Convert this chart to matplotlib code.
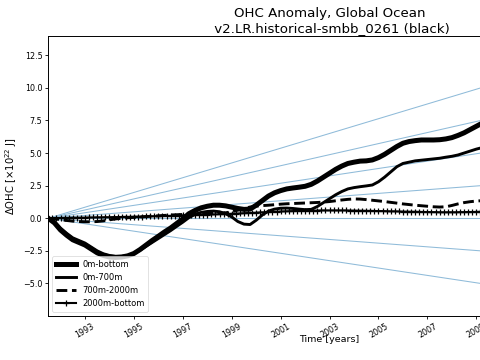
import numpy as np
import matplotlib
matplotlib.use("Agg")
import matplotlib.pyplot as plt

# ---------------- data ----------------
start_year = 1991.5
end_year = 2014.5

# quarterly series (step 0.25 yr from 1991.5)
ohc_0m_bottom = [
    0.00, -0.35, -0.90, -1.30, -1.65, -1.85, -2.05, -2.35, -2.65, -2.85,
    -2.97, -3.00, -2.97, -2.88, -2.70, -2.40, -2.05, -1.70, -1.38, -1.05,
    -0.75, -0.40, -0.05, 0.35, 0.60, 0.80, 0.92, 1.00, 1.00, 0.95,
    0.85, 0.75, 0.68, 0.70, 1.00, 1.35, 1.70, 1.95, 2.12, 2.25,
    2.32, 2.38, 2.45, 2.60, 2.85, 3.15, 3.45, 3.75, 4.00, 4.20,
    4.30, 4.38, 4.40, 4.47, 4.65, 4.90, 5.20, 5.50, 5.75, 5.88,
    5.95, 6.00, 6.00, 6.00, 6.02, 6.08, 6.18, 6.35, 6.55, 6.80,
    7.05, 7.30, 7.50]

ohc_0m_700m = [
    0.00, -0.25, -0.75, -1.15, -1.50, -1.70, -1.90, -2.20, -2.50, -2.72,
    -2.85, -2.92, -2.92, -2.85, -2.70, -2.45, -2.15, -1.85, -1.55, -1.25,
    -0.95, -0.62, -0.30, 0.05, 0.30, 0.45, 0.52, 0.55, 0.50, 0.35,
    0.10, -0.25, -0.45, -0.48, -0.15, 0.25, 0.55, 0.70, 0.77, 0.78,
    0.75, 0.70, 0.66, 0.68, 0.90, 1.20, 1.50, 1.80, 2.05, 2.25,
    2.35, 2.42, 2.48, 2.55, 2.80, 3.15, 3.55, 3.95, 4.20, 4.30,
    4.40, 4.45, 4.50, 4.55, 4.60, 4.68, 4.75, 4.85, 5.00, 5.15,
    5.30, 5.42, 5.55]

ohc_700m_2000m = [
    0.00, -0.05, -0.10, -0.17, -0.22, -0.25, -0.27, -0.27, -0.25, -0.20,
    -0.12, -0.05, 0.00, 0.04, 0.07, 0.10, 0.13, 0.16, 0.19, 0.22,
    0.25, 0.27, 0.29, 0.31, 0.33, 0.35, 0.36, 0.37, 0.38, 0.42,
    0.50, 0.62, 0.75, 0.86, 0.93, 0.97, 1.00, 1.04, 1.08, 1.11,
    1.13, 1.15, 1.17, 1.19, 1.21, 1.24, 1.28, 1.34, 1.40, 1.45,
    1.48, 1.47, 1.43, 1.38, 1.33, 1.28, 1.22, 1.16, 1.10, 1.05,
    1.00, 0.96, 0.92, 0.88, 0.86, 0.88, 0.98, 1.10, 1.20, 1.27,
    1.32, 1.35, 1.37]

# bi-monthly series (step 1/6 yr from 1991.5)
ohc_2000m_bottom = [
    0.00, 0.01, 0.02, 0.02, 0.03, 0.03,
    0.04, 0.04, 0.05, 0.05, 0.06, 0.06,
    0.07, 0.07, 0.08, 0.08, 0.09, 0.09,
    0.10, 0.11, 0.11, 0.12, 0.13, 0.13,
    0.14, 0.15, 0.16, 0.16, 0.17, 0.18,
    0.19, 0.20, 0.21, 0.22, 0.23, 0.24,
    0.25, 0.26, 0.27, 0.28, 0.29, 0.30,
    0.31, 0.32, 0.33, 0.35, 0.36, 0.37,
    0.39, 0.40, 0.42, 0.43, 0.45, 0.46,
    0.48, 0.49, 0.50, 0.52, 0.53, 0.54,
    0.55, 0.56, 0.57, 0.58, 0.58, 0.59,
    0.59, 0.60, 0.60, 0.60, 0.60, 0.60,
    0.60, 0.60, 0.59, 0.59, 0.58, 0.58,
    0.57, 0.57, 0.56, 0.55, 0.55, 0.54,
    0.53, 0.53, 0.52, 0.51, 0.51, 0.50,
    0.50, 0.49, 0.48, 0.48, 0.47, 0.47,
    0.46, 0.46, 0.46, 0.46, 0.46, 0.47,
    0.47, 0.48, 0.48, 0.49, 0.50, 0.50,
    0.51]

# reference trend lines: OHC reached at end_year [x10^22 J]
trend_end_values = [13.0, 9.75, 6.5, 3.25, 0.0, -3.25, -6.5]

series_labels = ['0m-bottom', '0m-700m', '700m-2000m', '2000m-bottom']
xtick_years = [1993, 1995, 1997, 1999, 2001, 2003, 2005, 2007, 2009, 2011, 2013]
ytick_values = [-5.0, -2.5, 0.0, 2.5, 5.0, 7.5, 10.0, 12.5]

title = 'OHC Anomaly, Global Ocean\n v2.LR.historical-smbb_0261 (black)'
xlabel = 'Time [years]'
ylabel = r'$\Delta$OHC [$\times 10^{22}$ J]'

# ---------------- plot ----------------
t_q = start_year + np.arange(len(ohc_0m_bottom)) * 0.25
t_b = start_year + np.arange(len(ohc_2000m_bottom)) / 6.0

fig = plt.figure(figsize=(4.8, 3.6), dpi=100)
ax = fig.add_axes([0.1006, 0.123, 1.172, 0.777])

for v in trend_end_values:
    ax.plot([start_year, end_year], [0.0, v], color='#8fbbd9', lw=0.75,
            zorder=1)

ax.plot(t_q, ohc_0m_bottom, color='black', lw=3.6, ls='-',
        label=series_labels[0], zorder=3)
ax.plot(t_q, ohc_0m_700m, color='black', lw=2.1, ls='-',
        label=series_labels[1], zorder=3)
ax.plot(t_q, ohc_700m_2000m, color='black', lw=2.1, ls='--',
        label=series_labels[2], zorder=3)
ax.plot(t_b, ohc_2000m_bottom, color='black', lw=1.5, ls='-', marker='+',
        ms=4.2, mew=0.9, label=series_labels[3], zorder=3)

ax.set_xlim(start_year, end_year)
ax.set_ylim(-7.47, 13.97)
ax.set_xticks(xtick_years)
ax.set_xticklabels([str(y) for y in xtick_years], rotation=30, ha='center',
                   fontsize=5.8)
ax.set_yticks(ytick_values)
ax.set_yticklabels(['%.1f' % v if v >= 0 else '\u2212%.1f' % abs(v)
                    for v in ytick_values], fontsize=5.8)
ax.tick_params(length=2.2, width=0.6, pad=2)
for s in ax.spines.values():
    s.set_linewidth(0.7)

ax.set_xlabel(xlabel, fontsize=6.8, labelpad=-3)
ax.set_ylabel(ylabel, fontsize=7.2, labelpad=3)
ax.set_title(title, fontsize=9.6, pad=3)

leg = ax.legend(loc='lower left', fontsize=6.0, handlelength=2.4,
                borderaxespad=0.5, framealpha=0.8)
leg.get_frame().set_linewidth(0.5)

fig.savefig('out.png', dpi=100)
